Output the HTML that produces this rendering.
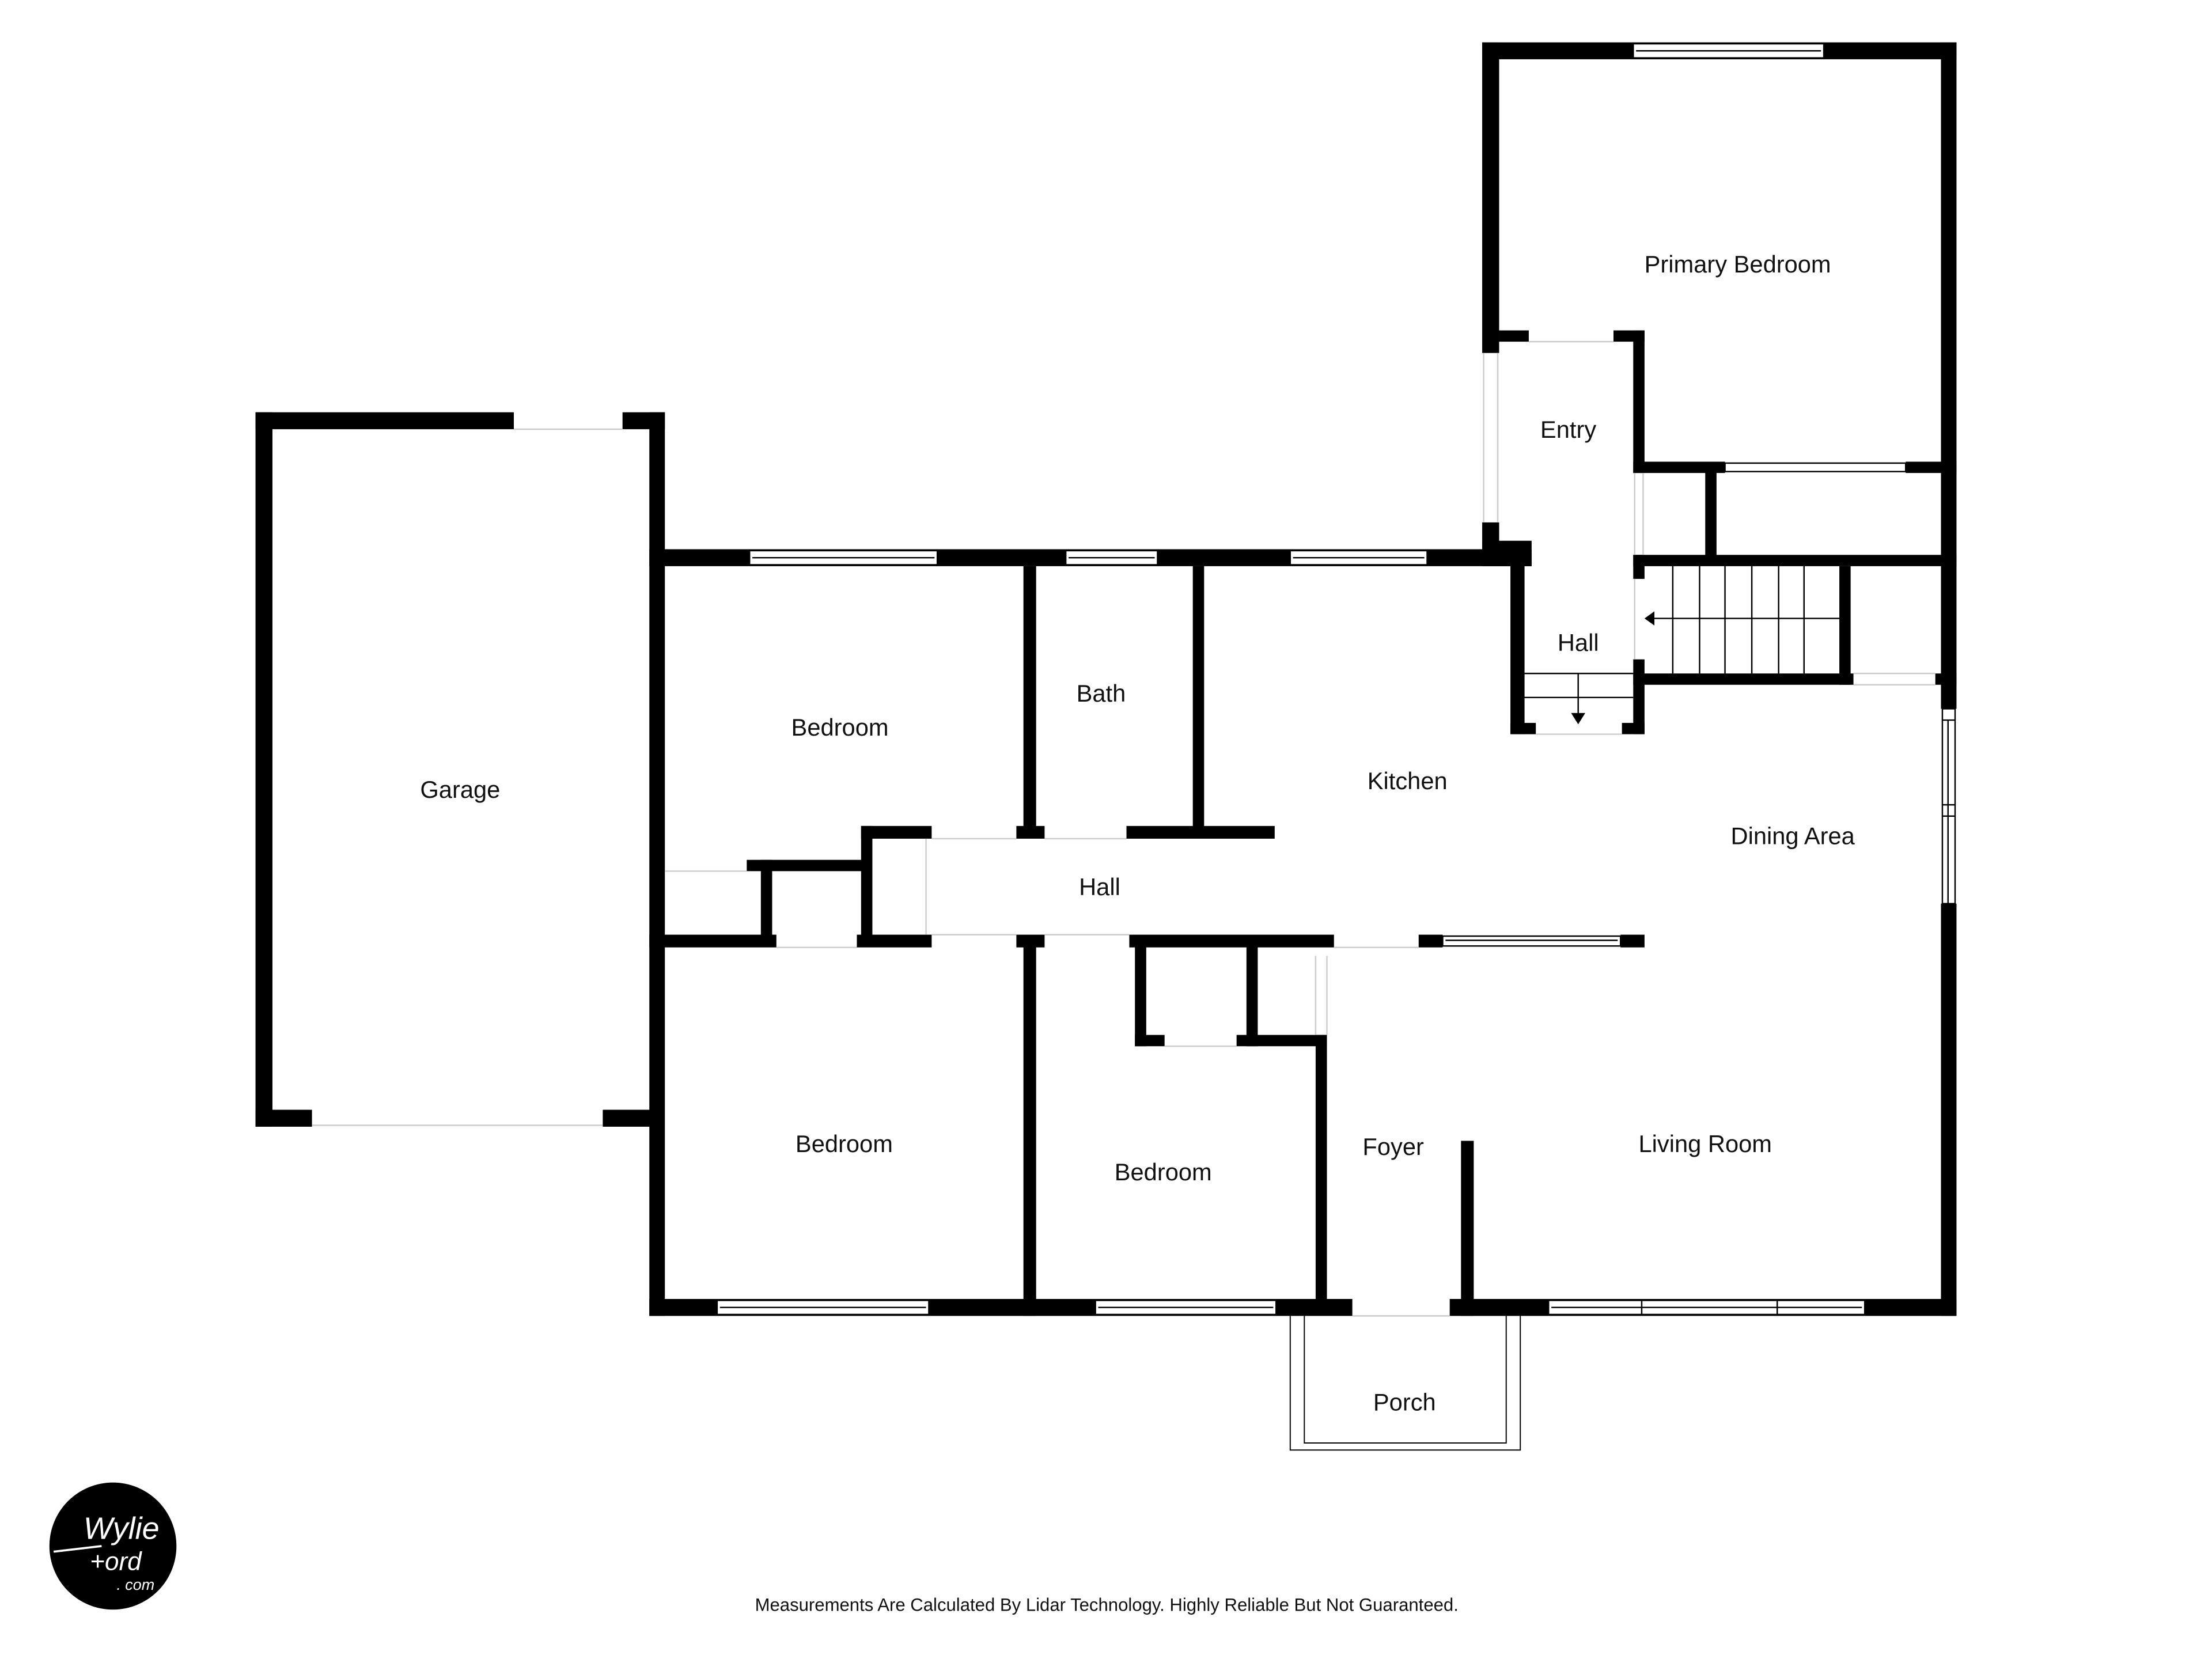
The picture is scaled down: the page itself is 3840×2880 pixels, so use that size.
<!DOCTYPE html>
<html><head><meta charset="utf-8"><style>
html,body{margin:0;padding:0;background:#fff;}
svg{display:block;}
text{font-family:"Liberation Sans","DejaVu Sans",sans-serif;fill:#111;}
</style></head><body>
<svg width="3840" height="2880" viewBox="0 0 1567 1175" preserveAspectRatio="none" xmlns="http://www.w3.org/2000/svg">
<rect width="1567" height="1175" fill="#fff"/>
<g fill="#000">
<rect x="181" y="292" width="183" height="12"/>
<rect x="441" y="292" width="30" height="12"/>
<rect x="181" y="292" width="12" height="506"/>
<rect x="460" y="292" width="11" height="640"/>
<rect x="181" y="786" width="40" height="12"/>
<rect x="427" y="786" width="40" height="12"/>
<rect x="460" y="389" width="625" height="12"/>
<rect x="725" y="401" width="9" height="190"/>
<rect x="845" y="401" width="8" height="190"/>
<rect x="610" y="585" width="50" height="9"/>
<rect x="720" y="585" width="20" height="9"/>
<rect x="798" y="585" width="105" height="9"/>
<rect x="529" y="609" width="86" height="8"/>
<rect x="539" y="609" width="8" height="58"/>
<rect x="610" y="585" width="8" height="82"/>
<rect x="460" y="662" width="90" height="9"/>
<rect x="607" y="662" width="53" height="9"/>
<rect x="720" y="662" width="20" height="9"/>
<rect x="800" y="662" width="145" height="9"/>
<rect x="1005" y="662" width="17" height="9"/>
<rect x="1148" y="662" width="17" height="9"/>
<rect x="725" y="667" width="9" height="265"/>
<rect x="804" y="667" width="8" height="74"/>
<rect x="804" y="733" width="21" height="8"/>
<rect x="876" y="733" width="64" height="8"/>
<rect x="883" y="667" width="8" height="74"/>
<rect x="932" y="733" width="8" height="187"/>
<rect x="1035" y="808" width="9" height="124"/>
<rect x="460" y="920" width="498" height="12"/>
<rect x="1027" y="920" width="359" height="12"/>
<rect x="1375" y="30" width="11" height="472"/>
<rect x="1375" y="640" width="11" height="292"/>
<rect x="1050" y="30" width="336" height="12"/>
<rect x="1050" y="30" width="12" height="220"/>
<rect x="1050" y="370" width="12" height="25"/>
<rect x="1050" y="383" width="35" height="18"/>
<rect x="1062" y="234" width="21" height="8"/>
<rect x="1143" y="234" width="22" height="8"/>
<rect x="1157" y="234" width="8" height="101"/>
<rect x="1157" y="327" width="65" height="8"/>
<rect x="1350" y="327" width="36" height="8"/>
<rect x="1208" y="327" width="8" height="68"/>
<rect x="1157" y="393" width="229" height="8"/>
<rect x="1157" y="393" width="8" height="17"/>
<rect x="1157" y="467" width="8" height="53"/>
<rect x="1303" y="401" width="8" height="84"/>
<rect x="1157" y="477" width="156" height="8"/>
<rect x="1371" y="477" width="15" height="8"/>
<rect x="1070" y="395" width="10" height="125"/>
<rect x="1070" y="512" width="18" height="8"/>
<rect x="1149" y="512" width="16" height="8"/>
</g>
<g fill="#fff" stroke="#000" stroke-width="1">
<rect x="531" y="390" width="133" height="10"/>
<rect x="755" y="390" width="65" height="10"/>
<rect x="914" y="390" width="97" height="10"/>
<rect x="1157" y="31" width="135" height="10"/>
<rect x="1222" y="328" width="128" height="6"/>
<rect x="1022" y="663" width="126" height="7"/>
<rect x="508" y="921" width="150" height="10"/>
<rect x="776" y="921" width="128" height="10"/>
<rect x="1097" y="921" width="224" height="10"/>
<rect x="1376" y="502" width="9" height="138"/>
</g>
<g stroke="#000" stroke-width="1" fill="none">
<line x1="533" y1="395" x2="662" y2="395"/>
<line x1="757" y1="395" x2="818" y2="395"/>
<line x1="916" y1="395" x2="1009" y2="395"/>
<line x1="1159" y1="36" x2="1290" y2="36"/>
<line x1="1024" y1="666" x2="1146" y2="666"/>
<line x1="510" y1="926" x2="656" y2="926"/>
<line x1="778" y1="926" x2="902" y2="926"/>
<line x1="1099" y1="926" x2="1319" y2="926"/>
<line x1="1163" y1="921" x2="1163" y2="931"/>
<line x1="1259" y1="921" x2="1259" y2="931"/>
<line x1="1380" y1="510" x2="1380" y2="640"/>
<line x1="1376" y1="510" x2="1385" y2="510"/>
<line x1="1376" y1="570" x2="1385" y2="570"/>
<line x1="1376" y1="578" x2="1385" y2="578"/>
<g stroke="#ccc">
<line x1="364" y1="304" x2="441" y2="304"/>
<line x1="221" y1="797" x2="427" y2="797"/>
<line x1="1051" y1="250" x2="1051" y2="370"/>
<line x1="1061" y1="250" x2="1061" y2="370"/>
<line x1="1083" y1="242" x2="1143" y2="242"/>
<line x1="1158" y1="335" x2="1158" y2="393"/>
<line x1="1164" y1="335" x2="1164" y2="393"/>
<line x1="1158" y1="410" x2="1158" y2="467"/>
<line x1="1313" y1="477" x2="1371" y2="477"/>
<line x1="1313" y1="485" x2="1371" y2="485"/>
<line x1="471" y1="617" x2="529" y2="617"/>
<line x1="550" y1="671" x2="607" y2="671"/>
<line x1="660" y1="594" x2="720" y2="594"/>
<line x1="740" y1="594" x2="798" y2="594"/>
<line x1="660" y1="662" x2="720" y2="662"/>
<line x1="740" y1="662" x2="800" y2="662"/>
<line x1="945" y1="671" x2="1005" y2="671"/>
<line x1="825" y1="741" x2="876" y2="741"/>
<line x1="932" y1="677" x2="932" y2="733"/>
<line x1="940" y1="677" x2="940" y2="733"/>
<line x1="656" y1="594" x2="656" y2="662"/>
<line x1="958" y1="932" x2="1027" y2="932"/>
<line x1="1088" y1="520" x2="1149" y2="520"/>
</g>
<line x1="1185" y1="401" x2="1185" y2="477"/>
<line x1="1204" y1="401" x2="1204" y2="477"/>
<line x1="1222" y1="401" x2="1222" y2="477"/>
<line x1="1241" y1="401" x2="1241" y2="477"/>
<line x1="1260" y1="401" x2="1260" y2="477"/>
<line x1="1278" y1="401" x2="1278" y2="477"/>
<line x1="1172" y1="438" x2="1303" y2="438"/>
<line x1="1080" y1="477" x2="1157" y2="477"/>
<line x1="1080" y1="494" x2="1157" y2="494"/>
<line x1="1118" y1="477" x2="1118" y2="506"/>
<path d="M914 932 V1027 H1077 V932 M924 932 V1022 H1067 V932" stroke-width="0.8"/>
</g>
<polygon points="1165,438 1172,433 1172,443" fill="#000"/>
<polygon points="1113,505 1123,505 1118,513" fill="#000"/>
<g font-size="17" text-anchor="middle">
<text x="1231" y="193">Primary Bedroom</text>
<text x="1111" y="310">Entry</text>
<text x="1118" y="461">Hall</text>
<text x="326" y="565">Garage</text>
<text x="595" y="521">Bedroom</text>
<text x="780" y="497">Bath</text>
<text x="997" y="559">Kitchen</text>
<text x="1270" y="598">Dining Area</text>
<text x="779" y="634">Hall</text>
<text x="598" y="816">Bedroom</text>
<text x="824" y="836">Bedroom</text>
<text x="987" y="818">Foyer</text>
<text x="1208" y="816">Living Room</text>
<text x="995" y="999">Porch</text>
</g>
<text x="784" y="1141" font-size="12.7" text-anchor="middle">Measurements Are Calculated By Lidar Technology. Highly Reliable But Not Guaranteed.</text>
<circle cx="80" cy="1095" r="45" fill="#000"/>
<g font-family="Liberation Serif,serif" font-style="italic" text-anchor="middle">
<text x="86" y="1090" font-size="22" style="fill:#fff">Wylie</text>
<text x="82" y="1112" font-size="18" style="fill:#fff">+ord</text>
<text x="96" y="1126" font-size="11" style="fill:#fff">. com</text>
</g>
<line x1="38" y1="1099" x2="72" y2="1095" stroke="#fff" stroke-width="1.5"/>
</svg>
</body></html>
